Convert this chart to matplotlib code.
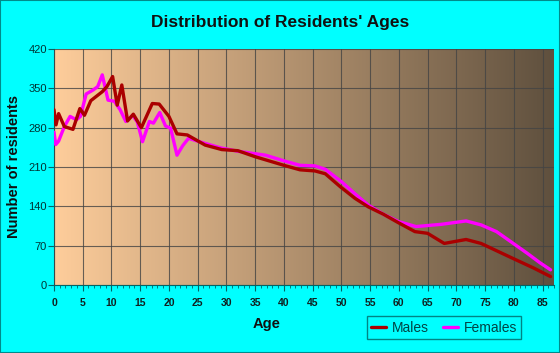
import numpy as np
import matplotlib
matplotlib.use("Agg")
import matplotlib.pyplot as plt
from matplotlib.patches import Rectangle

plt.rcParams["font.family"] = ["Liberation Sans", "DejaVu Sans"]

# ---- data ----
ages_m = [0, 0.35, 0.8, 1.8, 3.3, 4.5, 5.3, 6.4, 8.4, 9.2, 10.2, 11.0, 11.8, 12.8,
          13.8, 15.2, 17.1, 18.3, 20.0, 21.4, 23.2, 26.3, 29.2, 32.0, 35.1, 40.0,
          42.8, 45.4, 47.2, 49.8, 52.4, 54.7, 57.3, 59.9, 62.8, 65.0, 67.9, 71.7,
          74.3, 79.5, 83.5, 86.4]
males = [312, 285, 305, 282, 277, 314, 302, 328, 344, 353, 371, 320, 356, 292,
         304, 280, 323, 322, 300, 269, 267, 249, 241, 239, 228, 213,
         205, 203, 198, 175, 154, 139, 126, 111, 95, 92, 74, 81,
         74, 49, 30, 15]

ages_f = [0, 0.3, 0.8, 1.8, 2.8, 3.9, 4.6, 5.6, 6.8, 7.6, 8.4, 9.4, 10.5, 11.5,
          12.5, 13.7, 14.5, 15.4, 16.6, 17.3, 18.4, 19.4, 20.3, 21.4, 22.4, 23.4,
          26.3, 29.0, 32.0, 36.8, 40.0, 42.8, 45.4, 47.2, 50.0, 52.4, 54.7, 57.3,
          59.9, 63.0, 67.4, 71.7, 74.3, 77.0, 79.5, 82.4, 84.5, 86.4]
females = [272, 250, 256, 282, 300, 294, 300, 340, 347, 353, 374, 329, 327, 312,
           291, 302, 290, 255, 291, 288, 307, 283, 279, 231, 248, 261,
           252, 244, 238, 231, 221, 213, 212, 206, 184, 162, 142, 126,
           113, 104, 108, 114, 107, 95, 77, 56, 40, 27]

x_ticks = list(range(0, 90, 5))
y_ticks = [0, 70, 140, 210, 280, 350, 420]

title = "Distribution of Residents' Ages"
x_label = "Age"
y_label = "Number of residents"

# ---- figure ----
W, H = 560, 353
fig = plt.figure(figsize=(W / 100, H / 100), dpi=100, facecolor="#00ffff")
fig.patches.append(Rectangle((0, 0), 1, 1, transform=fig.transFigure,
                             fill=False, edgecolor="#008b8b", linewidth=1.5))

ax = fig.add_axes([54 / W, 1 - 285 / H, (554 - 54) / W, (285 - 49) / H])
ax.set_xlim(0, 86.7)
ax.set_ylim(0, 420)

# gradient background
c_left = np.array([254, 205, 155]) / 255
c_right = np.array([95, 80, 62]) / 255
t = np.linspace(0, 1, 256)
grad = (c_left[None, :] * (1 - t[:, None]) + c_right[None, :] * t[:, None])[None, :, :]
ax.imshow(grad, extent=[0, 1, 0, 1], transform=ax.transAxes, aspect="auto",
          zorder=0, interpolation="bilinear")

ax.set_xticks(x_ticks)
ax.set_xticks(range(0, 88), minor=True)
ax.set_yticks(y_ticks)
ax.grid(True, which="major", color="#444444", linewidth=0.8, alpha=0.8, zorder=1)
ax.set_axisbelow(False)

ax.plot(ages_f, females, color="#ff00ff", linewidth=2.4, solid_joinstyle="round",
        solid_capstyle="round", label="Females", zorder=3)
ax.plot(ages_m, males, color="#aa0000", linewidth=2.4, solid_joinstyle="round",
        solid_capstyle="round", label="Males", zorder=4)

for s in ["top", "right"]:
    ax.spines[s].set_visible(False)
ax.spines["left"].set_color("#006666")
ax.spines["bottom"].set_color("#006666")

ax.tick_params(axis="y", which="major", direction="out", length=4, color="#006666",
               labelsize=8, labelcolor="#003333", pad=1)
ax.tick_params(axis="x", which="major", direction="out", length=4, color="#006666",
               labelsize=7.5, labelcolor="#102020", pad=5)
ax.tick_params(axis="x", which="minor", direction="out", length=2.5, color="#006666")
for lab in ax.get_xticklabels():
    lab.set_fontweight("bold")

fig.text(0.5, 1 - 23 / H, title, ha="center", va="center", fontsize=12.5,
         fontweight="bold", color="#111111")
fig.text(267 / W, 1 - 324 / H, x_label, ha="center", va="center", fontsize=10.5,
         fontweight="bold", color="#111111")
fig.text(14 / W, 1 - 167 / H, y_label, ha="center", va="center", rotation=90,
         fontsize=10.5, fontweight="bold", color="#111111")

h, l = ax.get_legend_handles_labels()
leg = fig.legend([h[1], h[0]], [l[1], l[0]], loc="center",
                 bbox_to_anchor=(444 / W, 1 - 327.5 / H), ncol=2, frameon=True,
                 fontsize=10, handlelength=1.1, handletextpad=0.4, columnspacing=1.0,
                 borderpad=0.3, fancybox=False, edgecolor="#006666")
leg.get_frame().set_facecolor("none")
leg.get_frame().set_linewidth(1.0)
for txt in leg.get_texts():
    txt.set_color("#004444")

fig.savefig("out.png", dpi=100, facecolor=fig.get_facecolor())
